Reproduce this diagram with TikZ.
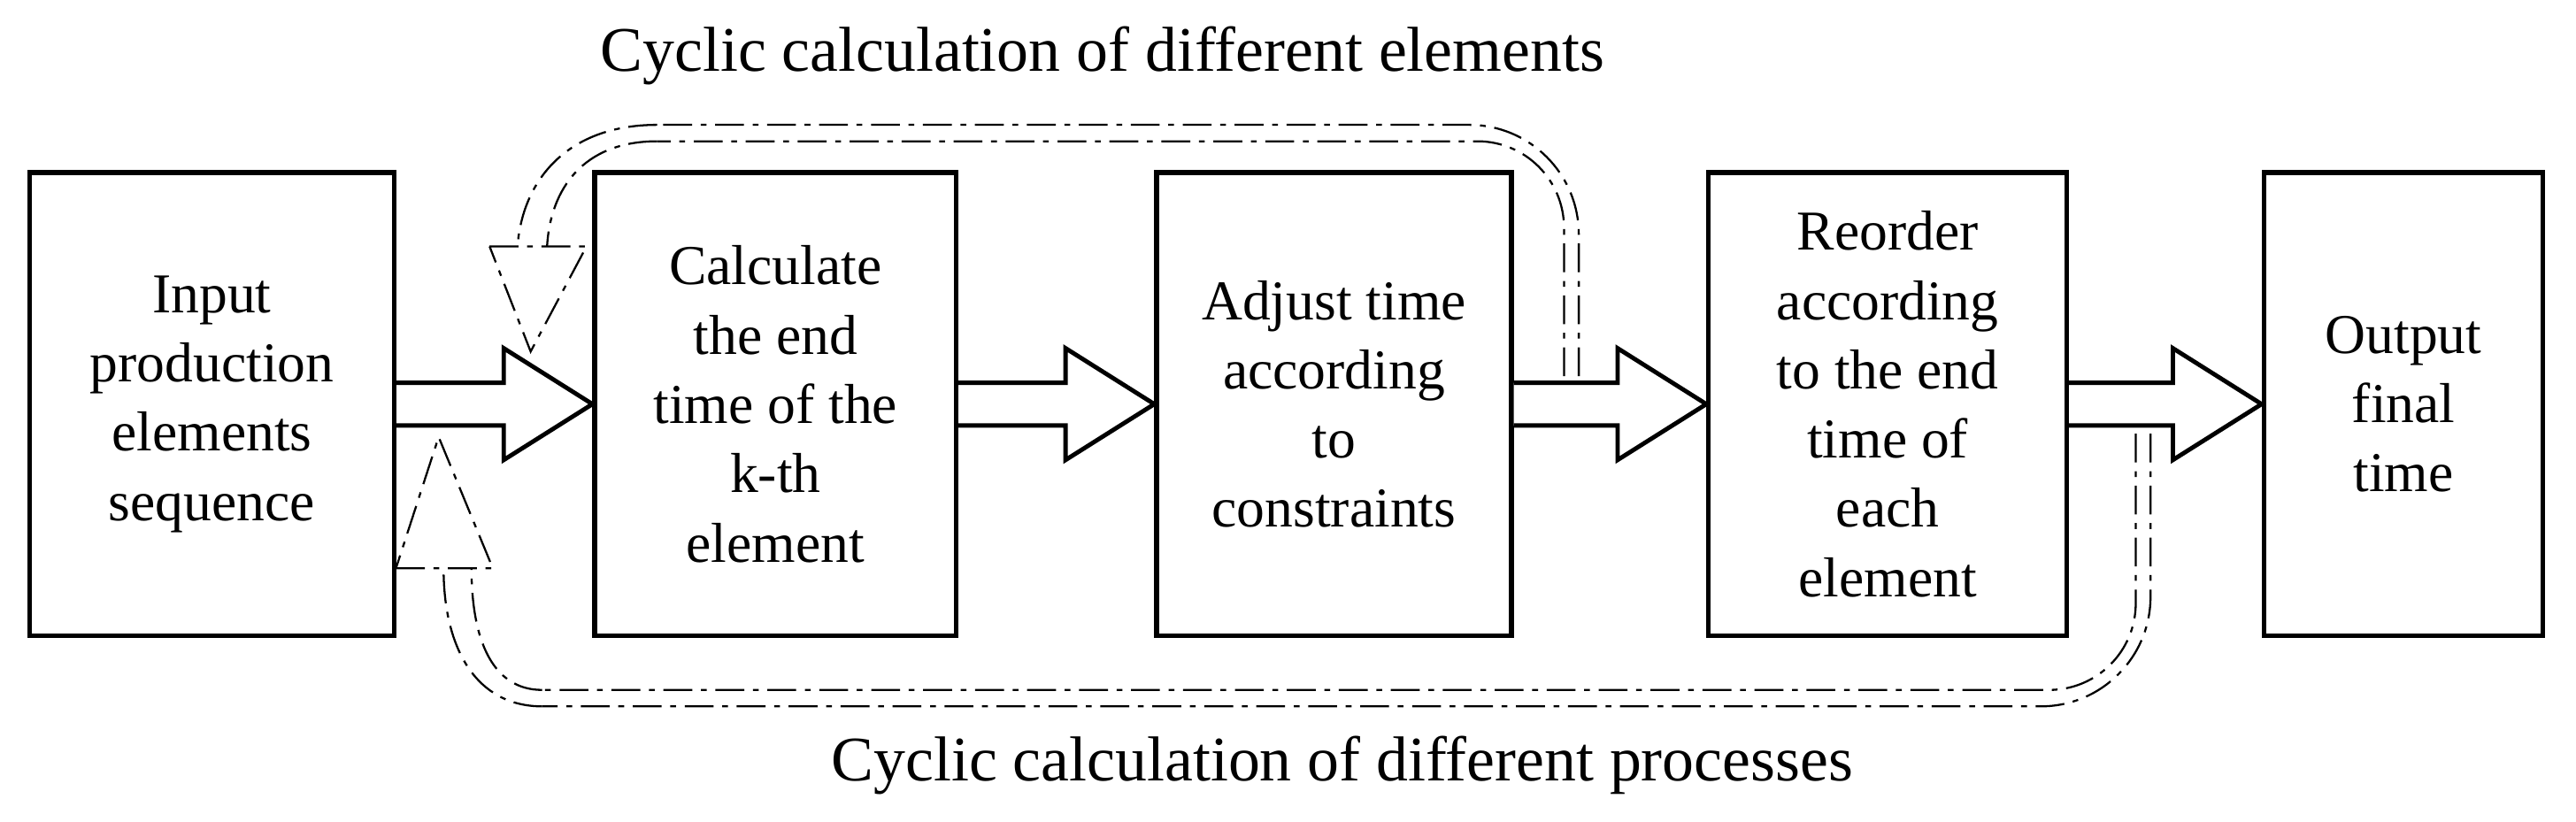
\documentclass[tikz,border=0pt]{standalone}
\usepackage{fontspec}
\setmainfont{Liberation Serif}
\usetikzlibrary{calc}
\begin{document}
\begin{tikzpicture}[x=0.02cm,y=-0.02cm,
  box/.style={draw,line width=1.6pt,minimum height=5.64cm,align=center,inner sep=0pt,font=\fontsize{19.5}{24}\selectfont},
  hollow/.style={draw,line width=1.5pt,fill=white,line join=miter},
  loop/.style={line width=0.7pt,dash pattern=on 10pt off 3pt on 2pt off 3pt},
  lbl/.style={font=\fontsize{22}{26}\selectfont}]
\useasboundingbox (0,0) rectangle (1568,500);
\node[box,minimum width=4.44cm] (b1) at (129,246) {Input\\production\\elements\\sequence};
\node[box,minimum width=4.4cm] (b2) at (472,246) {Calculate\\the end\\time of the\\k-th\\element};
\node[box,minimum width=4.32cm] (b3) at (812,246) {Adjust time\\according\\to\\constraints};
\node[box,minimum width=4.36cm] (b4) at (1149,246) {Reorder\\according\\to the end\\time of\\each\\element};
\node[box,minimum width=3.4cm] (b5) at (1463,246) {Output\\final\\time};
\foreach \a/\b in {b1/b2,b2/b3,b3/b4,b4/b5}{
  \draw[hollow] ($(\a.east)+(0,-13)$) -- ($(\b.west)+(-54,-13)$) -- ($(\b.west)+(-54,-34)$) -- (\b.west) -- ($(\b.west)+(-54,34)$) -- ($(\b.west)+(-54,13)$) -- ($(\a.east)+(0,13)$);
}
% top loop
\coordinate (t1) at (952,229);
\coordinate (t2) at (961,229);
\draw[loop,rounded corners=30] (t1) -- (952,86) -- (400,86);
\draw[loop,rounded corners=38] (t2) -- (961,76) -- (400,76);
\draw[loop] (400,86) .. controls (355,86) and (335,115) .. (333,150);
\draw[loop] (400,76) .. controls (345,76) and (318,110) .. (315,150);
\draw[loop] (298,150) -- (357,150) -- (323,214) -- cycle;
% bottom loop
\coordinate (u1) at (1300,264);
\coordinate (u2) at (1309,264);
\draw[loop,rounded corners=30] (u1) -- (1300,420) -- (330,420);
\draw[loop,rounded corners=38] (u2) -- (1309,430) -- (330,430);
\draw[loop] (330,420) .. controls (300,420) and (287,390) .. (287,346);
\draw[loop] (330,430) .. controls (290,430) and (270,395) .. (270,346);
\draw[loop] (241,346) -- (300,346) -- (267,266) -- cycle;
\node[lbl] (tt) at (671,34) {Cyclic calculation of different elements};
\node[lbl] (bt) at (817,466) {Cyclic calculation of different processes};
\end{tikzpicture}
\end{document}
